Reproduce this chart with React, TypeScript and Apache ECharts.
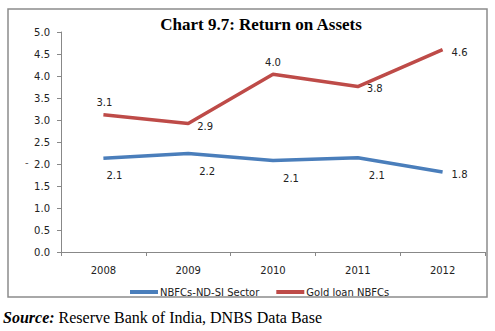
import React, { useEffect, useRef } from "react";
import * as echarts from "echarts";

const years = ["2008", "2009", "2010", "2011", "2012"];
const ndsiValues = [2.13, 2.24, 2.08, 2.14, 1.82];
const goldValues = [3.12, 2.92, 4.04, 3.76, 4.6];
const seriesNames = ["NBFCs-ND-SI Sector", "Gold loan NBFCs"];
const titleText = "Chart 9.7: Return on Assets";

const FONT = "DejaVu Sans";

export default function App() {
  const ref = useRef<HTMLDivElement>(null);
  useEffect(() => {
    if (!ref.current) return;
    const chart = echarts.init(ref.current, null, { renderer: "svg" });
    const lbl = { fontFamily: FONT, fontSize: 10, color: "#222" };
    const goldLabelPos: any[] = [
      { position: "top", offset: [1, -2] },
      { position: "right", offset: [4, 3] },
      { position: "top", offset: [0, -2] },
      { position: "right", offset: [4, 2] },
      { position: "right", offset: [4, 3] },
    ];
    const ndsiLabelPos: any[] = [
      { position: "bottom", offset: [11, 7] },
      { position: "bottom", offset: [19, 8] },
      { position: "bottom", offset: [18, 8] },
      { position: "bottom", offset: [19, 8] },
      { position: "right", offset: [4, 3] },
    ];
    const mk = (vals: number[], pos: any[]) =>
      vals.map((v, i) => ({ value: v, label: pos[i] }));
    chart.setOption({
      animation: false,
      title: {
        text: titleText,
        left: 256,
        textAlign: "center",
        top: 11,
        textStyle: {
          fontFamily: "Liberation Serif",
          fontWeight: "bold",
          fontSize: 17,
          color: "#000",
        },
      },
      grid: { left: 61, right: 10, top: 32, bottom: 79, containLabel: false },
      legend: {
        data: seriesNames,
        left: 125,
        top: 282,
        itemWidth: 28,
        itemHeight: 4,
        itemGap: 17,
        icon: "rect",
        textStyle: { fontFamily: FONT, fontSize: 10, color: "#222", padding: [0, 0, 0, -3] },
      },
      xAxis: {
        type: "category",
        data: years,
        boundaryGap: true,
        axisLine: { lineStyle: { color: "#888", width: 1 } },
        axisTick: { show: true, length: 4, lineStyle: { color: "#888" } },
        axisLabel: { ...lbl, margin: 13 },
      },
      yAxis: {
        type: "value",
        min: 0,
        max: 5,
        interval: 0.5,
        axisLine: { show: true, lineStyle: { color: "#888", width: 1 } },
        axisTick: { show: true, length: 4, lineStyle: { color: "#888" } },
        splitLine: { show: false },
        axisLabel: { ...lbl, margin: 11, formatter: (v: number) => v.toFixed(1) },
      },
      series: [
        {
          name: seriesNames[0],
          type: "line",
          data: mk(ndsiValues, ndsiLabelPos),
          showSymbol: true,
          symbol: "circle",
          symbolSize: 0,
          lineStyle: { color: "#4a7ebb", width: 3.5 },
          itemStyle: { color: "#4a7ebb" },
          label: { show: true, ...lbl, formatter: (p: any) => Number(p.value).toFixed(1) },
        },
        {
          name: seriesNames[1],
          type: "line",
          data: mk(goldValues, goldLabelPos),
          showSymbol: true,
          symbol: "circle",
          symbolSize: 0,
          lineStyle: { color: "#be4b48", width: 3.5 },
          itemStyle: { color: "#be4b48" },
          label: { show: true, ...lbl, formatter: (p: any) => Number(p.value).toFixed(1) },
        },
      ],
      graphic: [
        {
          type: "rect",
          shape: { x: 8, y: 9, width: 479, height: 288 },
          style: { fill: "none", stroke: "#8c8c8c", lineWidth: 1.5 },
          silent: true,
        },
        {
          type: "text",
          x: 25,
          y: 157,
          style: { text: "-", fontFamily: FONT, fontSize: 10, fill: "#555" },
        },
        {
          type: "text",
          x: 3,
          y: 309,
          style: {
            text: "{b|Source:} Reserve Bank of India, DNBS Data Base",
            fontFamily: "Liberation Serif",
            fontSize: 16,
            fill: "#000",
            rich: {
              b: {
                fontFamily: "Liberation Serif",
                fontSize: 16,
                fontWeight: "bold",
                fontStyle: "italic",
                fill: "#000",
              },
            },
          },
        },
      ],
    });
    return () => chart.dispose();
  }, []);
  return (
    <div
      ref={ref}
      style={{ position: "fixed", left: 0, top: 0, width: 495, height: 331, background: "#fff" }}
    />
  );
}
